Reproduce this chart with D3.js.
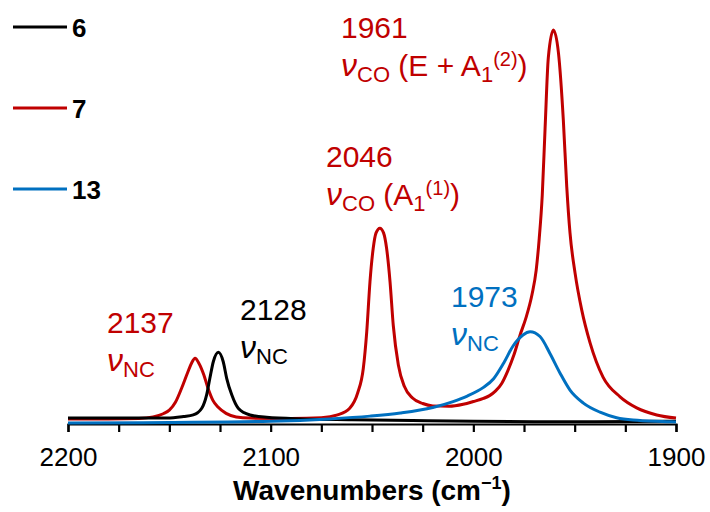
<!DOCTYPE html>
<html>
<head>
<meta charset="utf-8">
<script src="https://cdn.jsdelivr.net/npm/d3@7"></script>
<style>
  body { margin: 0; background: #fff; }
  svg { display: block; font-family: "Liberation Sans", Arial, sans-serif; }
</style>
</head>
<body>
<div id="graph"></div>
<script>
// spectra (wavenumber, relative absorbance)
const wn6  = [2200, 2175, 2160, 2151, 2143, 2138.2, 2134, 2131.6, 2130, 2128.3, 2125.8, 2123.4, 2121.7, 2119.2, 2116, 2110.2, 2102, 2085, 2060, 2030, 2000, 1970, 1940, 1900];
const abs6 = [0.015, 0.015, 0.015, 0.015, 0.019, 0.023, 0.04, 0.074, 0.116, 0.158, 0.182, 0.158, 0.116, 0.074, 0.04, 0.023, 0.017, 0.013, 0.011, 0.009, 0.007, 0.006, 0.006, 0.007];

const wn7  = [2200, 2180, 2165, 2158, 2153, 2150, 2147, 2144, 2141, 2139, 2137.3, 2135.5, 2133, 2131, 2128.5, 2126, 2122, 2117, 2110, 2090, 2075, 2067, 2061, 2057, 2054.3, 2052.6, 2051, 2049.4, 2048, 2046.1, 2044.3, 2042.8, 2041.1, 2039.5, 2037, 2034, 2030, 2025, 2020, 2012, 2005, 2000, 1995, 1992, 1989, 1986, 1983, 1980, 1977, 1974, 1971, 1969, 1967.5, 1966, 1964.6, 1963, 1960.5, 1958, 1955.6, 1953.9, 1952.3, 1949.8, 1946.5, 1942.4, 1936, 1927.6, 1919.4, 1909.5, 1900];
const abs7 = [0.013, 0.013, 0.014, 0.018, 0.026, 0.035, 0.055, 0.09, 0.13, 0.155, 0.167, 0.155, 0.125, 0.092, 0.06, 0.043, 0.027, 0.018, 0.015, 0.014, 0.016, 0.023, 0.04, 0.08, 0.141, 0.234, 0.361, 0.446, 0.485, 0.497, 0.485, 0.446, 0.361, 0.25, 0.15, 0.095, 0.066, 0.052, 0.046, 0.045, 0.05, 0.057, 0.065, 0.072, 0.084, 0.103, 0.135, 0.175, 0.225, 0.27, 0.33, 0.39, 0.47, 0.58, 0.75, 0.93, 1.0, 0.942, 0.772, 0.602, 0.485, 0.383, 0.289, 0.206, 0.119, 0.069, 0.041, 0.023, 0.015];

const wn13  = [2200, 2150, 2100, 2071, 2051, 2036, 2020, 2010, 2003, 1995, 1990, 1985, 1980.4, 1975.5, 1972, 1967.1, 1962.2, 1957.2, 1952.3, 1945.7, 1937.5, 1929.3, 1921.2, 1904.6, 1900];
const abs13 = [0.0025, 0.004, 0.007, 0.013, 0.02, 0.028, 0.042, 0.057, 0.071, 0.093, 0.115, 0.155, 0.198, 0.226, 0.234, 0.222, 0.179, 0.129, 0.086, 0.053, 0.03, 0.016, 0.01, 0.006, 0.005];

const seriesNames = ["6", "7", "13"];
const tickValues = [2200, 2175, 2150, 2125, 2100, 2075, 2050, 2025, 2000, 1975, 1950, 1925, 1900];
const tickLabels = ["2200", "2100", "2000", "1900"];

const width = 710, height = 512;
const colors = { "6": "#000000", "7": "#c00000", "13": "#0070c0" };

const x = d3.scaleLinear().domain([2200, 1900]).range([68, 676]);
const y = d3.scaleLinear().domain([0, 1]).range([424, 30]);

const svg = d3.select("#graph").append("svg")
    .attr("width", width)
    .attr("height", height);

// axis
const axis = d3.axisBottom(x)
    .tickValues(tickValues)
    .tickSize(8)
    .tickPadding(16)
    .tickFormat(d => tickLabels.includes(String(d)) ? String(d) : "");

const gx = svg.append("g")
    .attr("transform", `translate(0,${y(0)})`)
    .call(axis);
gx.select(".domain").attr("stroke", "#000").attr("stroke-width", 2.2);
gx.selectAll(".tick line").attr("stroke", "#000").attr("stroke-width", 2.2);
gx.selectAll(".tick text")
    .attr("fill", "#000")
    .style("font-family", "Liberation Sans, Arial, sans-serif")
    .style("font-size", "26px");

const title = svg.append("text")
    .attr("x", (x(2200) + x(1900)) / 2)
    .attr("y", 500)
    .attr("text-anchor", "middle")
    .style("font-size", "28px")
    .style("font-weight", "bold");
title.append("tspan").text("Wavenumbers (cm");
title.append("tspan").attr("dy", -11).style("font-size", "18px").text("\u22121");
title.append("tspan").attr("dy", 11).text(")");

// spectra
const line = d3.line()
    .x(d => x(d[0]))
    .y(d => y(d[1]))
    .curve(d3.curveMonotoneX);

const spectra = [
  { name: "7", pts: d3.zip(wn7, abs7) },
  { name: "6", pts: d3.zip(wn6, abs6) },
  { name: "13", pts: d3.zip(wn13, abs13) }
];

svg.append("g")
  .selectAll("path")
  .data(spectra)
  .join("path")
    .attr("fill", "none")
    .attr("stroke", d => colors[d.name])
    .attr("stroke-width", 3)
    .attr("stroke-linejoin", "round")
    .attr("d", d => line(d.pts));

// legend
const legend = svg.append("g")
  .selectAll("g")
  .data(seriesNames)
  .join("g")
    .attr("transform", (d, i) => `translate(13,${27 + i * 81})`);
legend.append("line")
    .attr("x1", 0).attr("x2", 54)
    .attr("stroke", d => colors[d])
    .attr("stroke-width", 3);
legend.append("text")
    .attr("x", 59)
    .attr("y", 9.5)
    .style("font-size", "26px")
    .style("font-weight", "bold")
    .text(d => d);

// peak annotations
function nuLabel(px, py, color, num, sub, rest) {
  const g = svg.append("g").attr("fill", color);
  g.append("text").attr("x", px).attr("y", py).style("font-size", "30px").text(num);
  const t = g.append("text").attr("x", px).attr("y", py + 38).style("font-size", "30px");
  t.append("tspan").style("font-style", "italic").style("font-size", "32px").text("\u03bd");
  t.append("tspan").attr("dy", 6).style("font-size", "22px").text(sub);
  if (rest) {
    t.append("tspan").attr("dy", -6).text(" (" + rest.main);
    t.append("tspan").attr("dy", 6).style("font-size", "22px").text("1");
    t.append("tspan").attr("dy", -16).style("font-size", "20px").text(rest.sup);
    t.append("tspan").attr("dy", 10).text(")");
  }
}

nuLabel(341, 38, colors["7"], "1961", "CO", { main: "E + A", sup: "(2)" });
nuLabel(326, 167, colors["7"], "2046", "CO", { main: "A", sup: "(1)" });
nuLabel(107, 333, colors["7"], "2137", "NC");
nuLabel(240, 320, colors["6"], "2128", "NC");
nuLabel(451, 307, colors["13"], "1973", "NC");
</script>
</body>
</html>
